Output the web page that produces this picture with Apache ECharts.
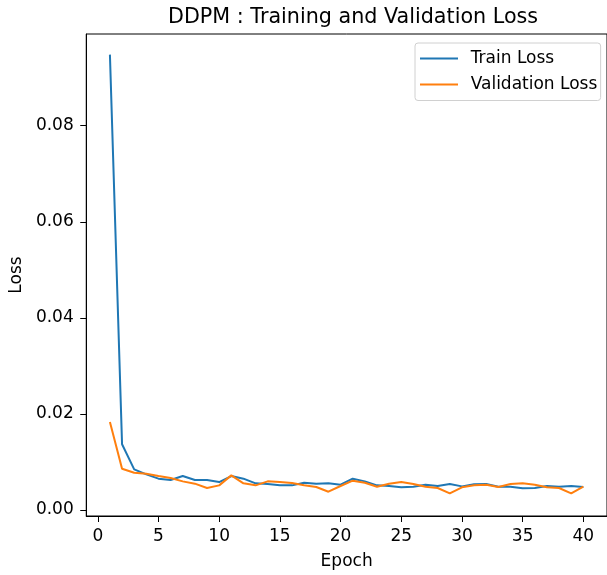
<!DOCTYPE html>
<html>
<head>
<meta charset="utf-8">
<script src="https://cdn.jsdelivr.net/npm/echarts@6/dist/echarts.min.js"></script>
<style>html,body{margin:0;padding:0;background:#fff}#c{width:607px;height:575px}</style>
</head>
<body>
<div id="c"></div>
<script>
const epochs = [1,2,3,4,5,6,7,8,9,10,11,12,13,14,15,16,17,18,19,20,21,22,23,24,25,26,27,28,29,30,31,32,33,34,35,36,37,38,39,40];
const trainLoss = [0.0948,0.0137,0.00846,0.00742,0.00652,0.00624,0.00707,0.00624,0.00624,0.00582,0.00707,0.00652,0.00555,0.00541,0.00513,0.00513,0.00568,0.00548,0.00555,0.00527,0.00652,0.00596,0.00513,0.00499,0.00472,0.00485,0.00527,0.00499,0.00541,0.00492,0.00534,0.00541,0.00485,0.00485,0.00451,0.00458,0.00499,0.00485,0.00499,0.00478];
const valLoss = [0.0183,0.0086,0.00777,0.00756,0.00707,0.00666,0.00596,0.00548,0.00458,0.00513,0.00721,0.00555,0.00513,0.00596,0.00582,0.00562,0.00513,0.00478,0.00381,0.00499,0.00610,0.00568,0.00485,0.00548,0.00582,0.00541,0.00485,0.00458,0.00347,0.00472,0.00513,0.00527,0.00478,0.00541,0.00555,0.00527,0.00472,0.00458,0.00347,0.00485];
const xTicks = [0,5,10,15,20,25,30,35,40];
const yTicks = [0,0.02,0.04,0.06,0.08];

const font = 'DejaVu Sans';
const chart = echarts.init(document.getElementById('c'), null, {renderer:'canvas'});
chart.setOption({
  animation: false,
  backgroundColor: '#fff',
  title: {
    text: 'DDPM : Training and Validation Loss',
    left: 163, top: 2,
    textStyle: {fontFamily: font, fontSize: 20.7, fontWeight: 'normal', color: '#000'}
  },
  legend: {
    orient: 'vertical',
    left: 415, top: 43,
    padding: [7, 3.3, 7.4, 5],
    icon: 'rect',
    itemWidth: 38, itemHeight: 2, itemGap: 9.1,
    backgroundColor: 'rgba(255,255,255,0.8)',
    borderColor: '#d0d0d0', borderWidth: 1, borderRadius: 3,
    textStyle: {fontFamily: font, fontSize: 17, color: '#000', padding: [0,0,0,7.7]},
    data: ['Train Loss', 'Validation Loss']
  },
  grid: {
    left: 86, top: 34, right: -5, bottom: 58.3,
    show: true, borderColor: '#000', borderWidth: 1, backgroundColor: 'transparent'
  },
  xAxis: {
    type: 'value', min: -0.95, max: 41.95,
    name: 'Epoch', nameLocation: 'middle', nameGap: 37,
    nameTextStyle: {fontFamily: font, fontSize: 17, color: '#000'},
    axisLine: {show: true, onZero: false, lineStyle: {color: '#000', width: 1}},
    axisTick: {show: true, length: 6, lineStyle: {color: '#000'}, customValues: xTicks},
    axisLabel: {fontFamily: font, fontSize: 17, color: '#000', margin: 12, customValues: xTicks},
    splitLine: {show: false}
  },
  yAxis: {
    type: 'value', min: -0.00125, max: 0.0991,
    name: 'Loss', nameLocation: 'middle', nameGap: 57, nameRotate: 90,
    nameTextStyle: {fontFamily: font, fontSize: 17, color: '#000'},
    axisLine: {show: true, onZero: false, lineStyle: {color: '#000', width: 1}},
    axisTick: {show: true, length: 6, lineStyle: {color: '#000'}, customValues: yTicks},
    axisLabel: {fontFamily: font, fontSize: 17, color: '#000', margin: 12.5, customValues: yTicks,
      formatter: v => v.toFixed(2)},
    splitLine: {show: false}
  },
  series: [
    {name: 'Train Loss', type: 'line', symbol: 'none', showSymbol: false,
     lineStyle: {color: '#1f77b4', width: 2}, itemStyle: {color: '#1f77b4'},
     data: epochs.map((e, i) => [e, trainLoss[i]])},
    {name: 'Validation Loss', type: 'line', symbol: 'none', showSymbol: false,
     lineStyle: {color: '#ff7f0e', width: 2}, itemStyle: {color: '#ff7f0e'},
     data: epochs.map((e, i) => [e, valLoss[i]])}
  ]
});
</script>
</body>
</html>
